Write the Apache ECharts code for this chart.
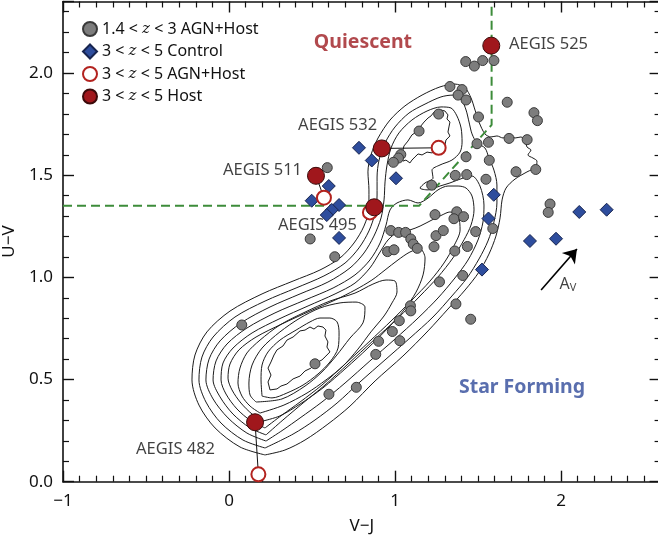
<!DOCTYPE html>
<html><head><meta charset="utf-8">
<script src="https://cdn.jsdelivr.net/npm/echarts/dist/echarts.min.js"></script>
<style>html,body{margin:0;padding:0;background:#fff}#c{width:658px;height:539px}</style>
</head><body><div id="c"></div>
<script>
// ---------- data ----------
const xTickValues = [-1, 0, 1, 2];
const yTickValues = [0.0, 0.5, 1.0, 1.5, 2.0];

const agnHostLowZ = [
[1.426,2.056],[1.478,2.034],[1.528,2.061],[1.596,2.061],[1.331,1.934],[1.404,1.919],[1.380,1.892],[1.428,1.868],
[1.676,1.857],[1.837,1.806],[1.858,1.767],[1.263,1.799],[1.503,1.785],[1.145,1.716],[1.687,1.680],[1.796,1.674],
[1.494,1.654],[1.563,1.661],[1.035,1.601],[1.021,1.584],[0.990,1.563],[1.428,1.590],[1.568,1.573],[1.729,1.517],
[1.848,1.528],[1.363,1.499],[1.432,1.503],[1.548,1.480],[1.221,1.451],[1.934,1.359],[1.923,1.318],[1.241,1.307],
[1.372,1.321],[1.355,1.287],[1.413,1.297],[0.975,1.229],[1.022,1.220],[1.064,1.220],[1.095,1.188],[1.110,1.163],
[1.134,1.142],[0.955,1.126],[0.994,1.135],[1.247,1.204],[1.291,1.229],[1.235,1.150],[1.360,1.129],[1.436,1.151],
[1.486,1.224],[1.589,1.239],[1.268,0.978],[1.408,1.009],[1.367,0.870],[1.456,0.795],[1.093,0.861],[1.095,0.836],
[1.026,0.788],[0.984,0.735],[1.029,0.690],[0.901,0.687],[0.884,0.623],[0.767,0.462],[0.602,0.428],[0.518,0.577],
[0.077,0.767],[0.592,1.537],[0.489,1.188],[0.637,1.101]
];
const controlHighZ = [
[0.783,1.634],[0.860,1.572],[1.006,1.485],[0.601,1.447],[0.498,1.375],[0.663,1.354],[0.619,1.330],[0.589,1.305],
[0.663,1.193],[1.595,1.404],[1.563,1.288],[2.110,1.320],[2.275,1.331],[1.813,1.178],[1.970,1.189],[1.524,1.038]
];
const hostNames = ['AEGIS 525','AEGIS 532','AEGIS 511','AEGIS 495','AEGIS 482'];
const hostHighZ = [[1.580,2.134],[0.920,1.631],[0.524,1.497],[0.875,1.343],[0.157,0.291]];
const agnHostNames = ['AEGIS 532','AEGIS 511','AEGIS 495','AEGIS 482'];
const agnHostHighZ = [[1.263,1.634],[0.572,1.390],[0.849,1.318],[0.177,0.036]];

// UVJ selection boundary
const boundary = [[-1,1.35],[1.145,1.35],[1.582,1.746],[1.582,2.35]];
// reddening vector (start, end)
const avVector = [[1.880,0.938],[2.096,1.139]];

// text annotations: [text, x, y, anchor]
const annotations = [
  ['AEGIS 525', 1.687, 2.142, 'left'],
  ['AEGIS 532', 0.892, 1.746, 'right'],
  ['AEGIS 511', 0.440, 1.525, 'right'],
  ['AEGIS 495', 0.771, 1.256, 'right'],
  ['AEGIS 482', -0.084, 0.160, 'right']
];
const regionLabels = [['Quiescent', 0.807, 2.152, 'q'], ['Star Forming', 1.765, 0.463, 's']];
const avLabel = [2.042, 0.967];

// density contours (V-J, U-V)
const contour1 = [[0.217,0.131],[0.066,0.170],[-0.084,0.263],[-0.181,0.375],[-0.223,0.498],[-0.205,0.620],[-0.133,0.733],[0.006,0.835],[0.199,0.919],[0.386,0.982],[0.548,1.036],[0.669,1.095],[0.753,1.168],[0.813,1.251],[0.843,1.339],[0.843,1.428],[0.837,1.516],[0.855,1.599],[0.898,1.682],[0.970,1.770],[1.060,1.839],[1.163,1.892],[1.271,1.932],[1.361,1.946],[1.422,1.927],[1.458,1.878],[1.482,1.819],[1.506,1.760],[1.542,1.702],[1.578,1.687],[1.614,1.692],[1.651,1.682],[1.687,1.697],[1.723,1.682],[1.759,1.687],[1.783,1.667],[1.795,1.638],[1.819,1.623],[1.801,1.599],[1.831,1.584],[1.855,1.569],[1.849,1.540],[1.795,1.516],[1.723,1.481],[1.669,1.437],[1.645,1.379],[1.633,1.291],[1.608,1.202],[1.566,1.114],[1.506,1.026],[1.422,0.938],[1.319,0.845],[1.199,0.738],[1.048,0.615],[0.880,0.493],[0.729,0.370],[0.596,0.282],[0.458,0.204],[0.337,0.155]];
const contour2 = [[0.217,0.165],[0.084,0.204],[-0.048,0.287],[-0.139,0.390],[-0.181,0.498],[-0.163,0.610],[-0.096,0.708],[0.036,0.806],[0.217,0.884],[0.404,0.948],[0.572,1.007],[0.699,1.070],[0.783,1.144],[0.843,1.227],[0.880,1.315],[0.892,1.403],[0.892,1.491],[0.904,1.574],[0.940,1.658],[1.000,1.736],[1.084,1.804],[1.181,1.848],[1.277,1.883],[1.349,1.892],[1.398,1.873],[1.428,1.819],[1.446,1.760],[1.464,1.702],[1.494,1.658],[1.542,1.633],[1.566,1.584],[1.596,1.525],[1.614,1.452],[1.614,1.364],[1.596,1.271],[1.560,1.178],[1.506,1.090],[1.434,0.997],[1.343,0.909],[1.229,0.806],[1.090,0.703],[0.940,0.596],[0.789,0.488],[0.651,0.385],[0.518,0.302],[0.386,0.233]];
const contour3 = [[0.223,0.199],[0.108,0.238],[-0.006,0.312],[-0.096,0.405],[-0.139,0.498],[-0.120,0.600],[-0.054,0.689],[0.072,0.777],[0.247,0.855],[0.428,0.919],[0.596,0.977],[0.729,1.046],[0.813,1.119],[0.873,1.202],[0.916,1.291],[0.934,1.379],[0.940,1.467],[0.952,1.550],[0.976,1.633],[1.024,1.707],[1.102,1.770],[1.193,1.814],[1.277,1.834],[1.337,1.829],[1.373,1.790],[1.398,1.731],[1.404,1.662],[1.392,1.613],[1.343,1.574],[1.271,1.550],[1.223,1.525],[1.229,1.486],[1.181,1.462],[1.151,1.437],[1.199,1.428],[1.271,1.447],[1.331,1.462],[1.410,1.486],[1.464,1.496],[1.512,1.447],[1.536,1.354],[1.530,1.271],[1.500,1.183],[1.440,1.085],[1.361,0.997],[1.259,0.899],[1.139,0.801],[1.000,0.698],[0.849,0.591],[0.699,0.483],[0.560,0.390],[0.428,0.312],[0.325,0.253]];
const contour4 = [[0.223,0.229],[0.127,0.263],[0.024,0.331],[-0.054,0.415],[-0.096,0.498],[-0.078,0.591],[-0.012,0.674],[0.108,0.752],[0.277,0.826],[0.458,0.889],[0.627,0.948],[0.759,1.012],[0.849,1.085],[0.910,1.168],[0.946,1.256],[0.970,1.330],[1.012,1.364],[1.078,1.379],[1.139,1.364],[1.199,1.388],[1.259,1.428],[1.319,1.447],[1.380,1.447],[1.428,1.437],[1.464,1.398],[1.476,1.330],[1.458,1.256],[1.416,1.184],[1.349,1.095],[1.259,1.002],[1.151,0.909],[1.018,0.801],[0.867,0.689],[0.717,0.576],[0.578,0.473],[0.446,0.385],[0.325,0.302]];
const contour5 = [[0.217,0.263],[0.133,0.297],[0.048,0.356],[-0.018,0.429],[-0.048,0.498],[-0.036,0.581],[0.024,0.654],[0.139,0.728],[0.301,0.796],[0.476,0.860],[0.639,0.919],[0.759,0.972],[0.849,1.046],[0.910,1.124],[0.958,1.183],[1.018,1.222],[1.090,1.232],[1.151,1.251],[1.223,1.281],[1.283,1.305],[1.331,1.320],[1.380,1.300],[1.392,1.232],[1.355,1.154],[1.295,1.070],[1.211,0.982],[1.102,0.889],[0.982,0.791],[0.843,0.684],[0.699,0.576],[0.560,0.473],[0.428,0.390],[0.319,0.326]];
const contour6 = [[0.205,0.297],[0.139,0.331],[0.072,0.385],[0.018,0.449],[-0.006,0.507],[0.006,0.576],[0.060,0.645],[0.163,0.708],[0.319,0.772],[0.488,0.835],[0.639,0.889],[0.759,0.938],[0.861,0.987],[0.940,1.036],[1.018,1.085],[1.090,1.124],[1.151,1.139],[1.181,1.095],[1.169,1.012],[1.127,0.928],[1.054,0.840],[0.958,0.752],[0.837,0.654],[0.705,0.556],[0.566,0.459],[0.428,0.380],[0.307,0.322]];
const contour7 = [[0.187,0.336],[0.127,0.370],[0.078,0.419],[0.054,0.483],[0.066,0.556],[0.108,0.630],[0.187,0.693],[0.307,0.767],[0.458,0.830],[0.608,0.884],[0.759,0.923],[0.867,0.967],[0.946,0.987],[1.000,0.982],[1.012,0.928],[0.982,0.875],[0.934,0.811],[0.855,0.733],[0.777,0.649],[0.687,0.566],[0.584,0.498],[0.470,0.434],[0.331,0.375]];
const contour8 = [[0.163,0.390],[0.127,0.424],[0.120,0.483],[0.139,0.571],[0.199,0.654],[0.307,0.733],[0.428,0.801],[0.548,0.850],[0.669,0.875],[0.765,0.879],[0.819,0.855],[0.807,0.777],[0.729,0.703],[0.645,0.615],[0.560,0.537],[0.458,0.468],[0.319,0.405]];
const contour9 = [[0.199,0.419],[0.193,0.498],[0.199,0.571],[0.235,0.635],[0.307,0.693],[0.404,0.742],[0.488,0.782],[0.548,0.801],[0.608,0.801],[0.651,0.782],[0.663,0.728],[0.657,0.654],[0.608,0.586],[0.536,0.527],[0.446,0.473],[0.349,0.434],[0.259,0.410]];
const contour10 = [[0.247,0.449],[0.235,0.488],[0.253,0.522],[0.235,0.556],[0.253,0.586],[0.271,0.620],[0.289,0.645],[0.325,0.664],[0.349,0.693],[0.386,0.708],[0.428,0.738],[0.458,0.742],[0.488,0.757],[0.512,0.747],[0.536,0.762],[0.566,0.757],[0.584,0.742],[0.578,0.713],[0.596,0.684],[0.590,0.659],[0.608,0.635],[0.584,0.615],[0.560,0.596],[0.524,0.581],[0.494,0.556],[0.458,0.542],[0.428,0.517],[0.386,0.503],[0.349,0.478],[0.313,0.468],[0.289,0.454]];
const contourQ = [[1.030,1.599],[1.048,1.623],[1.054,1.643],[1.078,1.667],[1.102,1.697],[1.127,1.711],[1.151,1.736],[1.175,1.760],[1.199,1.780],[1.217,1.790],[1.235,1.809],[1.259,1.814],[1.277,1.819],[1.301,1.814],[1.319,1.795],[1.313,1.775],[1.331,1.760],[1.325,1.736],[1.319,1.711],[1.331,1.692],[1.307,1.672],[1.301,1.648],[1.277,1.628],[1.253,1.623],[1.223,1.609],[1.193,1.613],[1.163,1.599],[1.139,1.604],[1.120,1.589],[1.102,1.574],[1.090,1.560],[1.066,1.574],[1.048,1.569]];
const contours = [contour1, contour2, contour3, contour4, contour5, contour6, contour7, contour8, contour9, contour10, contourQ];
const jagged = [false, false, false, false, false, false, false, false, false, true, true];

// ---------- chart ----------
const FONT = '"Noto Sans", "Open Sans", sans-serif';
const INK = '#111111';
const chart = echarts.init(document.getElementById('c'), null, {renderer: 'canvas'});

const S_GREY = '1.4 < z < 3 AGN+Host';
const S_CTRL = '3 < z < 5 Control';
const S_OPEN = '3 < z < 5 AGN+Host';
const S_HOST = '3 < z < 5 Host';

function axisCommon(showLabels) {
  return {
    type: 'value', scale: false,
    axisLine: {show: true, onZero: false, lineStyle: {color: INK, width: 1.6}},
    axisTick: {show: true, inside: true, length: 11, lineStyle: {color: INK, width: 1.4}},
    minorTick: {show: true, length: 6, lineStyle: {color: INK, width: 1.2}},
    splitLine: {show: false},
    axisLabel: {show: showLabels, color: INK, fontFamily: FONT, fontSize: 17},
    nameTextStyle: {color: INK, fontFamily: FONT, fontSize: 17}
  };
}
const isTick = (v, list) => list.some(t => Math.abs(t - v) < 1e-6);

const xBase = {min: -1, max: 2.6, interval: 1};
const yBase = {min: 0, max: 2.35, interval: 0.5};

const series = [];
contours.forEach((c, i) => {
  series.push({
    type: 'line', name: 'contour' + i, data: c.concat([c[0]]),
    symbol: 'none', smooth: jagged[i] ? false : 0.3, silent: true, z: 1,
    lineStyle: {color: '#1b1b1b', width: 1}
  });
});
series.push({
  type: 'line', name: 'UVJ', data: boundary, symbol: 'none', silent: true, z: 2,
  lineStyle: {color: '#3d8c3a', width: 2, type: [9, 5]}
});
// connectors host <-> AGN+Host
agnHostNames.forEach((n, i) => {
  const h = hostHighZ[hostNames.indexOf(n)];
  series.push({
    type: 'line', name: 'link' + i, data: [h, agnHostHighZ[i]], symbol: 'none', silent: true, z: 3,
    lineStyle: {color: '#111', width: 1}
  });
});
// reddening arrow
series.push({
  type: 'line', name: 'Av', data: [], silent: true, z: 3,
  markLine: {
    silent: true, symbol: ['none', 'arrow'], symbolSize: 13, animation: false,
    lineStyle: {color: '#000', width: 1.6, type: 'solid'}, label: {show: false},
    data: [[{coord: avVector[0]}, {coord: avVector[1]}]]
  }
});
series.push({
  type: 'scatter', name: S_GREY, data: agnHostLowZ, symbol: 'circle', symbolSize: 10, z: 4,
  itemStyle: {color: '#7d7d7d', borderColor: '#3a3a3a', borderWidth: 1, opacity: 1}
});
series.push({
  type: 'scatter', name: S_CTRL, data: controlHighZ, symbol: 'diamond', symbolSize: 13, z: 4,
  itemStyle: {color: '#2e4d9d', borderColor: '#17244f', borderWidth: 1, opacity: 1}
});
series.push({
  type: 'scatter', name: S_OPEN, data: agnHostHighZ, symbol: 'circle', symbolSize: 14, z: 5,
  itemStyle: {color: '#ffffff', borderColor: '#b3231f', borderWidth: 2, opacity: 1}
});
series.push({
  type: 'scatter', name: S_HOST, data: hostHighZ, symbol: 'circle', symbolSize: 17, z: 6,
  itemStyle: {color: '#a0171c', borderColor: '#3b0a0a', borderWidth: 1, opacity: 1}
});
// text annotations
series.push({
  type: 'scatter', name: 'annot', symbolSize: 0, silent: true, z: 7,
  data: annotations.map(a => ({
    value: [a[1], a[2]], name: a[0],
    label: {show: true, formatter: a[0], position: a[3] === 'left' ? 'right' : 'left', distance: 0,
      color: INK, fontFamily: FONT, fontSize: 16.5}
  })).concat(regionLabels.map(r => ({
    value: [r[1], r[2]], name: r[0],
    label: {show: true, formatter: r[0], position: 'inside', fontWeight: 'bold',
      color: r[3] === 'q' ? '#9e1b20' : '#2f4a9a', fontFamily: FONT, fontSize: 19.5}
  }))).concat([{
    value: avLabel, name: 'Av',
    label: {show: true, position: 'inside', formatter: '{a|A}{s|V}',
      rich: {a: {fontFamily: FONT, fontSize: 16, color: INK}, s: {fontFamily: FONT, fontSize: 11, color: INK, padding: [8, 0, 0, 0]}}}
  }])
});

const option = {
  animation: false,
  backgroundColor: '#fff',
  grid: {left: 63, top: 1.5, width: 597.6, height: 480.2, containLabel: false, outerBoundsMode: 'none'},
  legend: {
    show: true, orient: 'vertical', left: 82, top: 21, padding: 0, itemGap: 6.5,
    itemWidth: 14, itemHeight: 14, selectedMode: false,
    data: [S_GREY, S_CTRL, S_OPEN, S_HOST],
    formatter: n => n.replace('z', '{i|z}'),
    textStyle: {color: INK, fontFamily: FONT, fontSize: 16,
      rich: {i: {fontFamily: '"DejaVu Serif", serif', fontStyle: 'italic', fontSize: 15, color: INK}}}
  },
  xAxis: [
    Object.assign(axisCommon(true), xBase, {
      position: 'bottom', name: 'V\u2212J', nameLocation: 'middle', nameGap: 36,
      minorTick: {show: true, splitNumber: 10, length: 6, lineStyle: {color: INK, width: 1.2}},
      axisLabel: {show: true, color: INK, fontFamily: FONT, fontSize: 17, margin: 11,
        formatter: v => isTick(v, xTickValues) ? String(Math.round(v)).replace('-', '\u2212') : ''}
    }),
    Object.assign(axisCommon(false), xBase, {
      position: 'top',
      minorTick: {show: true, splitNumber: 10, length: 6, lineStyle: {color: INK, width: 1.2}}
    })
  ],
  yAxis: [
    Object.assign(axisCommon(true), yBase, {
      position: 'left', name: 'U\u2212V', nameLocation: 'middle', nameGap: 45, nameRotate: 90,
      minorTick: {show: true, splitNumber: 5, length: 6, lineStyle: {color: INK, width: 1.2}},
      axisLabel: {show: true, color: INK, fontFamily: FONT, fontSize: 17, margin: 10,
        formatter: v => isTick(v, yTickValues) ? v.toFixed(1) : ''}
    }),
    Object.assign(axisCommon(false), yBase, {
      position: 'right',
      minorTick: {show: true, splitNumber: 5, length: 6, lineStyle: {color: INK, width: 1.2}}
    })
  ],
  series: series
};
chart.setOption(option);
</script>
</body></html>
